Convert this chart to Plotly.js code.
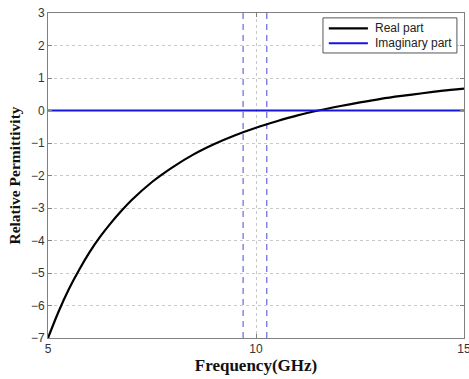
<!DOCTYPE html>
<html><head><meta charset="utf-8">
<script src="https://cdn.plot.ly/plotly-3.0.1.min.js"></script>
<style>html,body{margin:0;padding:0;background:#fff}#chart{width:469px;height:379px}</style>
</head><body><div id="chart"></div>
<script>
const freq = [5, 5.25, 5.5, 5.75, 6, 6.25, 6.5, 6.75, 7, 7.5, 8, 8.5, 9, 9.5, 10, 10.5, 11, 11.5, 12, 12.5, 13, 13.5, 14, 14.5, 15];
const realPart = [-7.0, -6.2, -5.5, -4.9, -4.36, -3.89, -3.48, -3.11, -2.77, -2.2, -1.74, -1.35, -1.03, -0.76, -0.53, -0.33, -0.15, 0.0, 0.13, 0.25, 0.36, 0.45, 0.53, 0.61, 0.67];
const imagPart = freq.map(() => 0);
const bandEdges = [9.69, 10.26];
const xTicks = [5, 10, 15];
const yTicks = [-7, -6, -5, -4, -3, -2, -1, 0, 1, 2, 3];
const seriesNames = ['Real part', 'Imaginary part'];
const seriesColors = ['#000000', '#1515e0'];

const traces = [
  {x: freq, y: realPart, name: seriesNames[0], mode: 'lines', line: {color: seriesColors[0], width: 2.2, shape: 'spline', smoothing: 0.6}},
  {x: freq, y: imagPart, name: seriesNames[1], mode: 'lines', line: {color: seriesColors[1], width: 2.2}}
];
const shapes = bandEdges.map(v => ({type: 'line', xref: 'x', yref: 'paper', x0: v, x1: v, y0: 0, y1: 1,
  line: {color: '#4848d8', width: 1, dash: '6px,5px'}, layer: 'below'}));

// custom legend (box, line samples, labels)
const legBox = {x0: 0.661, x1: 0.983, y0: 0.877, y1: 0.985};
const legRows = [0.953, 0.907];
shapes.push({type: 'rect', xref: 'paper', yref: 'paper', x0: legBox.x0, x1: legBox.x1, y0: legBox.y0, y1: legBox.y1,
  line: {color: '#555', width: 1}, fillcolor: '#fff', layer: 'above'});
const annotations = [];
seriesNames.forEach((n, i) => {
  shapes.push({type: 'line', xref: 'paper', yref: 'paper', x0: 0.675, x1: 0.769, y0: legRows[i], y1: legRows[i],
    line: {color: seriesColors[i], width: 2.2}, layer: 'above'});
  annotations.push({xref: 'paper', yref: 'paper', x: 0.7805, y: legRows[i], xanchor: 'left', yanchor: 'middle',
    text: n, showarrow: false, font: {family: 'Liberation Sans, Arial', size: 12, color: '#222'}});
});

const axisCommon = {showline: true, linecolor: '#808080', linewidth: 1, mirror: 'allticks', ticks: 'inside', ticklen: 4,
  tickcolor: '#808080', gridcolor: '#c8c8c8', griddash: 'dot', gridwidth: 1, zeroline: false, ticklabeloverflow: 'allow',
  tickfont: {family: 'Liberation Sans, Arial', size: 12, color: '#333'}};

const layout = {
  width: 469, height: 379, margin: {l: 48, r: 5, t: 13, b: 41},
  paper_bgcolor: '#fff', plot_bgcolor: '#fff', showlegend: false,
  xaxis: Object.assign({}, axisCommon, {range: [5, 15], tickvals: xTicks, ticktext: xTicks.map(String),
    title: {text: 'Frequency(GHz)', font: {family: 'Liberation Serif, Times New Roman', size: 17, color: '#111', weight: 'bold'}, standoff: 2}}),
  yaxis: Object.assign({}, axisCommon, {range: [-7, 3], tickvals: yTicks, ticktext: yTicks.map(v => v < 0 ? '\u2212' + Math.abs(v) : String(v)),
    title: {text: 'Relative Permittivity', font: {family: 'Liberation Serif, Times New Roman', size: 15.5, color: '#111', weight: 'bold'}, standoff: 6}}),
  shapes: shapes,
  annotations: annotations
};
Plotly.newPlot('chart', traces, layout, {staticPlot: true, displayModeBar: false});
</script></body></html>
